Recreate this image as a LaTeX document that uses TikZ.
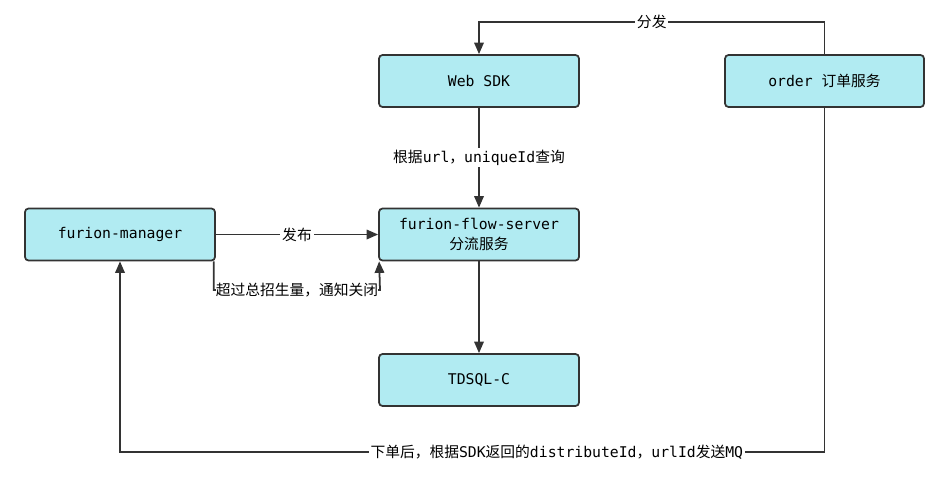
\documentclass[tikz,border=0pt]{standalone}
\usepackage{fontspec}
\setmainfont{DejaVu Sans Mono}
\newfontfamily\cjk{Noto Sans CJK SC}
\usetikzlibrary{arrows.meta}
\definecolor{svcfill}{RGB}{177,235,242}
\definecolor{edge}{RGB}{51,51,51}
\tikzset{
  svc/.style={draw=edge, fill=svcfill, rounded corners=2pt, minimum width=4cm, minimum height=1.04cm, align=center},
  lbl/.style={fill=white, inner sep=1pt}
}

\begin{document}
\begin{tikzpicture}[x=0.02cm,y=-0.02cm,line width=1pt,draw=edge,>={Triangle[length=2.3mm,width=1.9mm]},font=\fontsize{8.4}{11}\selectfont]
  \useasboundingbox[fill=white] (0,0) rectangle (950,477);
  \node[svc] (sdk) at (479,81) {Web SDK};
  \node[svc,minimum width=3.98cm] (order) at (824.5,81) {order {\cjk 订单服务}};
  \node[svc,minimum width=3.8cm] (manager) at (120,234.5) {furion-manager};
  \node[svc] (flow) at (479,234.5) {furion-flow-server\\{\cjk 分流服务}};
  \node[svc] (tdsql) at (479,380) {TDSQL-C};
  \coordinate (dispatch) at (479,22);
  \coordinate (closeturn) at (380,290);
  \coordinate (mqturn) at (120,452);
  % connectors
  \draw[->] (order.north) |- node[lbl,pos=0.75]{\cjk 分发} (dispatch) -- (sdk.north);
  \draw[->] (sdk) -- node[lbl]{{\cjk 根据}url{\cjk ，}uniqueId{\cjk 查询}} (flow);
  \draw[->] (manager) -- node[lbl]{\cjk 发布} (flow);
  \draw[->] ([xshift=-0.04cm]manager.south east) |- node[lbl,pos=0.75,inner sep=0pt]{\cjk 超过总招生量，通知关闭} (closeturn) -- ([xshift=0.02cm]flow.south west);
  \draw[->] (flow) -- (tdsql);
  \draw[->] (order.south) |- node[lbl,pos=0.69]{{\cjk 下单后，根据}SDK{\cjk 返回的}distributeId{\cjk ，}urlId{\cjk 发送}MQ} (mqturn) -- (manager.south);
\end{tikzpicture}
\end{document}
